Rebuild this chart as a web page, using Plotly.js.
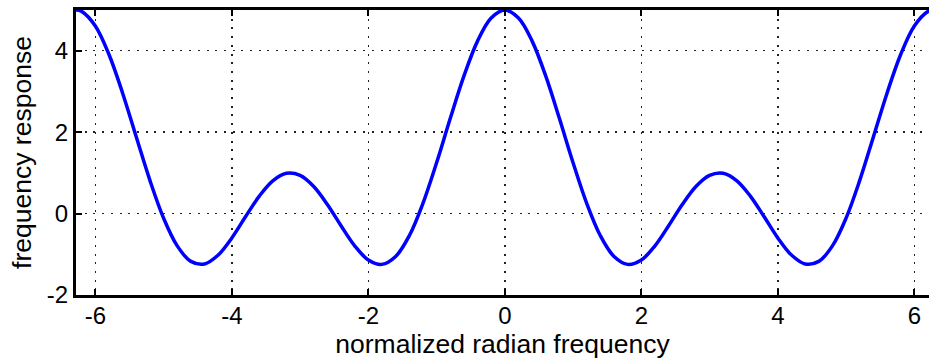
<!DOCTYPE html>
<html>
<head>
<meta charset="utf-8">
<script src="https://cdn.plot.ly/plotly-3.0.1.min.js"></script>
<style>html,body{margin:0;padding:0;background:#fff;}#chart{width:929px;height:362px;}</style>
</head>
<body>
<div id="chart"></div>
<script>
// normalized radian frequency samples
var freq = [-6.2832, -6.2, -6.0, -5.8, -5.6, -5.4, -5.2, -5.0, -4.8, -4.6, -4.4, -4.2, -4.0,
  -3.8, -3.6, -3.4, -3.2, -3.0, -2.8, -2.6, -2.4, -2.2, -2.0, -1.8, -1.6, -1.4, -1.2, -1.0,
  -0.8, -0.6, -0.4, -0.2, 0.0, 0.2, 0.4, 0.6, 0.8, 1.0, 1.2, 1.4, 1.6, 1.8, 2.0, 2.2, 2.4,
  2.6, 2.8, 3.0, 3.2, 3.4, 3.6, 3.8, 4.0, 4.2, 4.4, 4.6, 4.8, 5.0, 5.2, 5.4, 5.6, 5.8, 6.0,
  6.2, 6.2832];
// frequency response values
var response = [5.0, 4.966, 4.608, 3.908, 2.957, 1.881, 0.815, -0.111, -0.794, -1.174, -1.237, -1.019, -0.598,
  -0.079, 0.423, 0.805, 0.990, 0.940, 0.667, 0.223, -0.300, -0.792, -1.140, -1.248, -1.055, -0.545, 0.250, 1.248,
  2.335, 3.375, 4.236, 4.802, 5.0, 4.802, 4.236, 3.375, 2.335, 1.248, 0.250, -0.545, -1.055, -1.248, -1.140, -0.792, -0.300,
  0.223, 0.667, 0.940, 0.990, 0.805, 0.423, -0.079, -0.598, -1.019, -1.237, -1.174, -0.794, -0.111, 0.815, 1.881, 2.957, 3.908, 4.608,
  4.966, 5.0];
var xTicks = [-6, -4, -2, 0, 2, 4, 6];
var xTickText = ['-6', '-4', '-2', '0', '2', '4', '6'];
var yTicks = [-2, 0, 2, 4];
var yTickText = ['-2', '0', '2', '4'];

var fam = '"Liberation Sans", Arial, Helvetica, sans-serif';
var tickFont = {family: fam, size: 24, color: '#000'};
var titleFont = {family: fam, size: 26.5, color: '#000'};

Plotly.newPlot('chart', [{
  x: freq, y: response, type: 'scatter', mode: 'lines',
  line: {color: '#0000ff', width: 3.5, shape: 'spline', smoothing: 1},
  hoverinfo: 'none'
}], {
  width: 929, height: 362,
  margin: {l: 76, r: 0, t: 10, b: 67},
  paper_bgcolor: '#fff', plot_bgcolor: '#fff',
  showlegend: false,
  font: tickFont,
  xaxis: {
    range: [-6.2832, 6.215], tickvals: xTicks, ticktext: xTickText,
    showline: true, linecolor: '#000', linewidth: 3, mirror: 'ticks',
    ticks: 'inside', ticklen: 6, tickwidth: 2, tickcolor: '#000',
    ticklabelstandoff: -3,
    showgrid: true, gridcolor: '#222', griddash: '2px,6.7px', gridwidth: 1.5,
    zeroline: false, tickfont: tickFont,
    title: {text: 'normalized radian frequency', font: titleFont, standoff: 0}
  },
  yaxis: {
    range: [-2, 5], tickvals: yTicks, ticktext: yTickText,
    showline: true, linecolor: '#000', linewidth: 3, mirror: false,
    ticks: 'inside', ticklen: 6, tickwidth: 2, tickcolor: '#000',
    showgrid: true, gridcolor: '#222', griddash: '2px,6.7px', gridwidth: 1.5,
    zeroline: false, tickfont: tickFont,
    title: {text: 'frequency response', font: titleFont, standoff: 8}
  }
}, {displayModeBar: false, staticPlot: true});
</script>
</body>
</html>
